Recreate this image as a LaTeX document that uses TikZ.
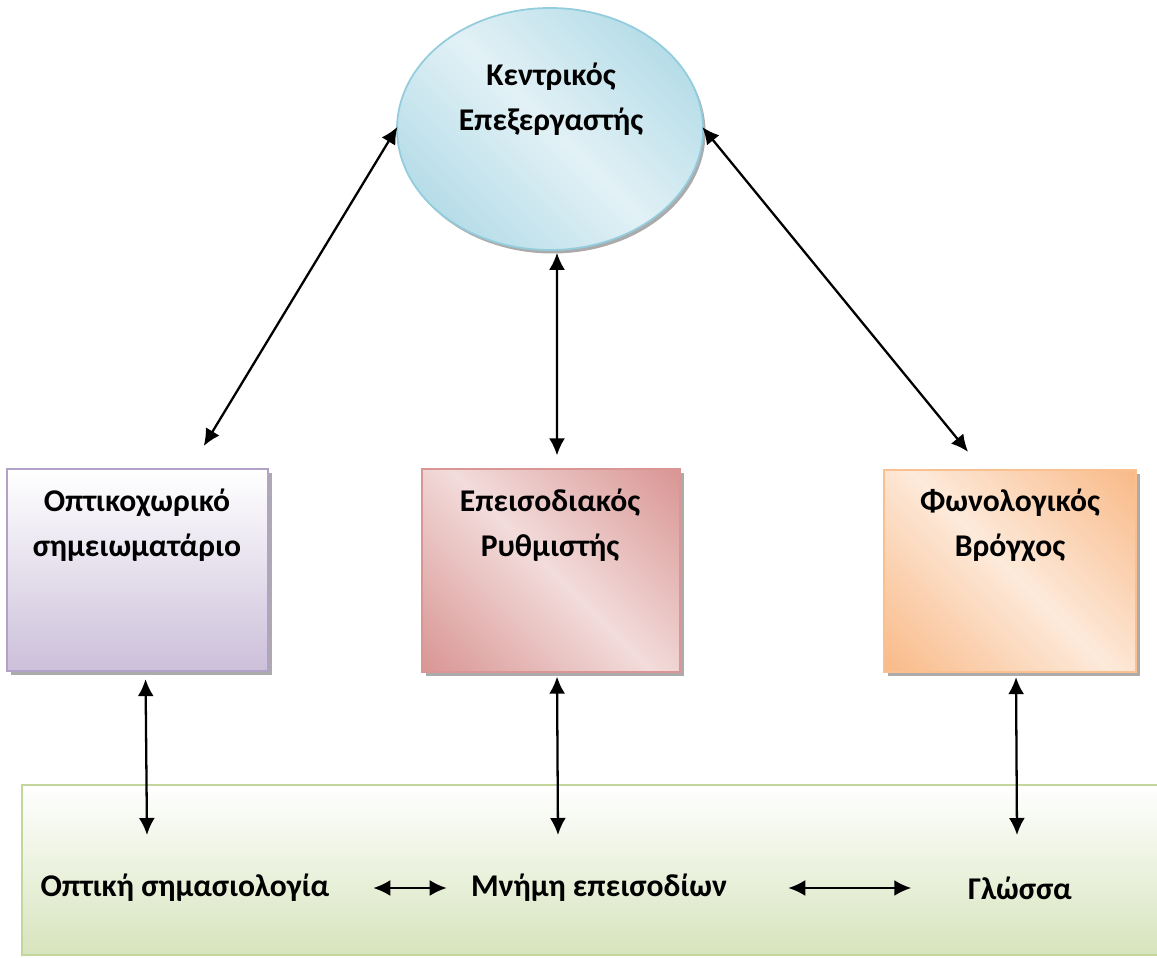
\documentclass[tikz,border=0pt]{standalone}
\usepackage{fontspec}
\setmainfont{Carlito}
\usepackage{tikz}
\usetikzlibrary{shapes,arrows.meta,shadows,positioning}

\definecolor{ceBorder}{HTML}{93CDDD}
\definecolor{ceDark}{HTML}{A5D5E3}
\definecolor{ceLight}{HTML}{E2F1F6}
\definecolor{vsBorder}{HTML}{B3A2C7}
\definecolor{vsBottom}{HTML}{CCC0DA}
\definecolor{epBorder}{HTML}{D99694}
\definecolor{epDark}{HTML}{D99694}
\definecolor{epLight}{HTML}{F2DCDB}
\definecolor{plBorder}{HTML}{FAC090}
\definecolor{plDark}{HTML}{F9BA88}
\definecolor{plLight}{HTML}{FDEADA}
\definecolor{ltBorder}{HTML}{C3D69B}
\definecolor{ltBottom}{HTML}{D7E4BD}

\pgfdeclarehorizontalshading{ceshade}{100bp}{color(0bp)=(ceDark); color(15bp)=(ceDark); color(50bp)=(ceLight); color(85bp)=(ceDark); color(100bp)=(ceDark)}
\pgfdeclarehorizontalshading{epshade}{100bp}{color(0bp)=(epDark); color(15bp)=(epDark); color(50bp)=(epLight); color(85bp)=(epDark); color(100bp)=(epDark)}
\pgfdeclarehorizontalshading{plshade}{100bp}{color(0bp)=(plDark); color(15bp)=(plDark); color(50bp)=(plLight); color(85bp)=(plDark); color(100bp)=(plDark)}

\tikzstyle{store} = [rectangle, draw, line width=1pt, minimum height=4.05cm, drop shadow={shadow xshift=0.08cm, shadow yshift=-0.08cm, fill=black!55, opacity=0.6}]
\tikzstyle{txt} = [font=\fontsize{18}{25.5}\selectfont\bfseries, align=center, inner sep=0pt]
\tikzstyle{line} = [draw, line width=1.3pt, {Latex[length=0.34cm,width=0.32cm]}-{Latex[length=0.34cm,width=0.32cm]}]

\begin{document}
\begin{tikzpicture}
\useasboundingbox (0,0) rectangle (23.14,19.16);

% long term part
\node [rectangle, draw=ltBorder, line width=1pt, top color=white, bottom color=ltBottom, minimum width=23cm, minimum height=3.4cm] (ltm) at (11.94,1.76) {};

\node [ellipse, draw=ceBorder, line width=1pt, shading=ceshade, shading angle=45, minimum width=6.12cm, minimum height=4.84cm, drop shadow={shadow xshift=0.05cm, shadow yshift=-0.07cm, fill=black!55, opacity=0.6}] (ce) at (11.0,16.58) {};
\node [txt] at (11.02,17.17) {Κεντρικός\\Επεξεργαστής};

\node [store, draw=vsBorder, top color=white, bottom color=vsBottom, minimum width=5.22cm] (vsp) at (2.75,7.76) {};
\node [store, draw=epBorder, shading=epshade, shading angle=45, minimum width=5.16cm] (ep) at (11.02,7.75) {};
\node [store, draw=plBorder, shading=plshade, shading angle=45, minimum width=5.04cm] (pl) at (20.2,7.74) {};

\node [txt] at (2.74,8.65) {Οπτικοχωρικό\\σημειωματάριο};
\node [txt] at (11.0,8.65) {Επεισοδιακός\\Ρυθμιστής};
\node [txt] at (20.2,8.65) {Φωνολογικός\\Βρόγχος};

\node [txt] (os) at (3.7,1.4) {Οπτική σημασιολογία};
\node [txt] (me) at (11.98,1.4) {Μνήμη επεισοδίων};
\node [txt] (gl) at (20.4,1.4) {Γλώσσα};

\path [line, shorten <=-0.05cm, shorten >=0.51cm] (ce.west) -- ([xshift=1.06cm]vsp.north);
\path [line, shorten <=0.04cm, shorten >=0.26cm] ([xshift=0.14cm]ce.south) -- ([xshift=0.12cm]ep.north);
\path [line, shorten <=-0.05cm, shorten >=0.44cm] (ce.east) -- ([xshift=-0.56cm]pl.north);

\path [line, shorten <=0.14cm] ([xshift=0.16cm]vsp.south) -- ([xshift=-0.76cm,yshift=1.06cm]os.center);
\path [line, shorten <=0.08cm] ([xshift=0.12cm]ep.south) -- ([xshift=-0.82cm,yshift=1.06cm]me.center);
\path [line, shorten <=0.08cm] ([xshift=0.12cm]pl.south) -- ([xshift=-0.06cm,yshift=1.06cm]gl.center);

\path [line, shorten <=0.87cm, shorten >=0.48cm] (os.east) -- (me.west);
\path [line, shorten <=1.22cm, shorten >=1.13cm] (me.east) -- (gl.west);

\end{tikzpicture}
\end{document}
